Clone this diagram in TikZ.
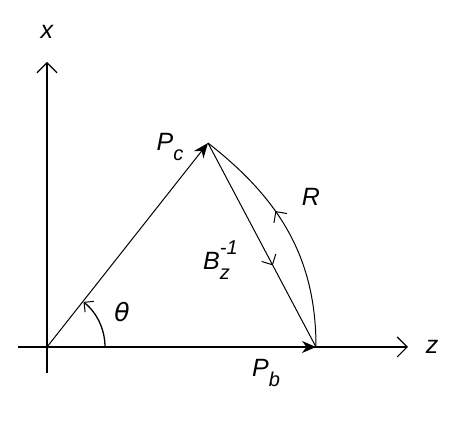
\documentclass[tikz,border=0pt]{standalone}
\usepackage{fontspec}
\setmainfont{Liberation Sans}
\usetikzlibrary{arrows.meta,decorations.markings}
\newcommand{\subsz}{\fontsize{20}{22}\selectfont}
\begin{document}
\begin{tikzpicture}[x=1pt,y=1pt,
  axis/.style={line width=1.6pt},
  vec/.style={line width=1pt},
  lbl/.style={font=\fontsize{25}{27}\selectfont\itshape, inner sep=0pt},
  openhead/.style={-{Straight Barb[length=10pt,width=20pt,line width=1.2pt]}},
  midbarb/.style={postaction={decorate}, decoration={markings,
    mark=at position #1 with {\arrow{Straight Barb[length=8pt,width=16pt,line width=1pt]}}}}
]
\useasboundingbox (0,0) rectangle (467,437);
\coordinate (O) at (47,90);
\coordinate (Pc) at (208,294);
\coordinate (Pb) at (316,90);
\coordinate (zl) at (18,90);
\coordinate (zr) at (408,90);
\coordinate (xb) at (47,64);
\coordinate (xt) at (47,375);
\coordinate (th0) at (105,90);

% axes
\draw[axis, openhead] (xb) -- (xt);
\draw[axis, openhead] (zl) -- (zr);
\draw[axis, -{Stealth[length=14pt,width=12pt]}] (O) -- (Pb);

% vectors
\draw[vec, -{Stealth[length=15pt,width=12pt]}] (O) -- (Pc);
\draw[vec, midbarb=0.6] (Pc) -- (Pb);
\draw[vec, midbarb=0.6] (Pb) to[out=90,in=-38] (Pc);

% angle
\draw[line width=1.3pt, -{Straight Barb[length=7pt,width=14pt,line width=1pt]}] (th0) arc[start angle=0,end angle=51,radius=58];

% labels
\node[lbl] (lx) at (47,405) {x};
\node[lbl] (lz) at (432,90) {z};
\node[lbl] (lPc) at (170,290) {P\raisebox{-10pt}{\subsz c}};
\node[lbl] (lPb) at (266,64) {P\raisebox{-10pt}{\subsz b}};
\node[lbl] (lR) at (311,240) {R};
\node[lbl] (lth) at (122,125) {\fontspec{DejaVu Sans}\itshape θ};
\node[lbl, anchor=west] (lB) at (203,177) {B\makebox[0pt][l]{\raisebox{-10pt}{\subsz z}}\raisebox{15pt}{\subsz -1}};
\end{tikzpicture}
\end{document}
